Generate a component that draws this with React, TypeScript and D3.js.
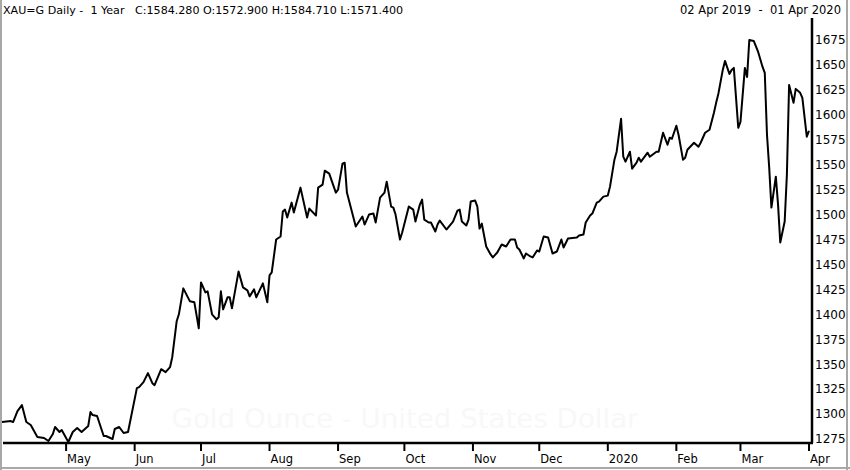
import * as d3 from "d3";

const dates = [
  "2019-04-02", "2019-04-06", "2019-04-07", "2019-04-09", "2019-04-11", "2019-04-13", "2019-04-15",
  "2019-04-18", "2019-04-21", "2019-04-23", "2019-04-25", "2019-04-26", "2019-04-28", "2019-04-29",
  "2019-05-02", "2019-05-04", "2019-05-06", "2019-05-08", "2019-05-11", "2019-05-12", "2019-05-13",
  "2019-05-15", "2019-05-18", "2019-05-19", "2019-05-22", "2019-05-23", "2019-05-25", "2019-05-27",
  "2019-05-29", "2019-06-02", "2019-06-03", "2019-06-05", "2019-06-07", "2019-06-09", "2019-06-10",
  "2019-06-13", "2019-06-15", "2019-06-17", "2019-06-18", "2019-06-20", "2019-06-21", "2019-06-23",
  "2019-06-26", "2019-06-28", "2019-06-30", "2019-07-01", "2019-07-03", "2019-07-04", "2019-07-06",
  "2019-07-08", "2019-07-09", "2019-07-10", "2019-07-11", "2019-07-13", "2019-07-14", "2019-07-15",
  "2019-07-18", "2019-07-20", "2019-07-22", "2019-07-23", "2019-07-25", "2019-07-26", "2019-07-29",
  "2019-07-31", "2019-08-01", "2019-08-02", "2019-08-04", "2019-08-06", "2019-08-07", "2019-08-08",
  "2019-08-09", "2019-08-11", "2019-08-12", "2019-08-15", "2019-08-18", "2019-08-19", "2019-08-22",
  "2019-08-23", "2019-08-25", "2019-08-26", "2019-08-28", "2019-08-31", "2019-09-01", "2019-09-03",
  "2019-09-04", "2019-09-05", "2019-09-09", "2019-09-12", "2019-09-13", "2019-09-15", "2019-09-17",
  "2019-09-18", "2019-09-20", "2019-09-22", "2019-09-23", "2019-09-25", "2019-09-26", "2019-09-27",
  "2019-09-29", "2019-09-30", "2019-10-03", "2019-10-05", "2019-10-06", "2019-10-08", "2019-10-09",
  "2019-10-10", "2019-10-12", "2019-10-13", "2019-10-15", "2019-10-16", "2019-10-17", "2019-10-20",
  "2019-10-23", "2019-10-25", "2019-10-26", "2019-10-27", "2019-10-29", "2019-10-30", "2019-10-31",
  "2019-11-02", "2019-11-03", "2019-11-04", "2019-11-05", "2019-11-07", "2019-11-09", "2019-11-10",
  "2019-11-12", "2019-11-14", "2019-11-16", "2019-11-18", "2019-11-20", "2019-11-21", "2019-11-22",
  "2019-11-24", "2019-11-25", "2019-11-27", "2019-11-28", "2019-11-30", "2019-12-01", "2019-12-03",
  "2019-12-05", "2019-12-07", "2019-12-09", "2019-12-11", "2019-12-12", "2019-12-14", "2019-12-18",
  "2019-12-19", "2019-12-21", "2019-12-22", "2019-12-24", "2019-12-25", "2019-12-27", "2019-12-28",
  "2019-12-30", "2020-01-01", "2020-01-02", "2020-01-04", "2020-01-05", "2020-01-07", "2020-01-08",
  "2020-01-09", "2020-01-11", "2020-01-12", "2020-01-14", "2020-01-15", "2020-01-16", "2020-01-19",
  "2020-01-20", "2020-01-23", "2020-01-24", "2020-01-26", "2020-01-28", "2020-01-29", "2020-01-30",
  "2020-02-01", "2020-02-02", "2020-02-04", "2020-02-05", "2020-02-06", "2020-02-09", "2020-02-11",
  "2020-02-12", "2020-02-14", "2020-02-16", "2020-02-18", "2020-02-19", "2020-02-20", "2020-02-22",
  "2020-02-23", "2020-02-25", "2020-02-26", "2020-02-27", "2020-02-29", "2020-03-01", "2020-03-03",
  "2020-03-04", "2020-03-05", "2020-03-07", "2020-03-09", "2020-03-11", "2020-03-12", "2020-03-13",
  "2020-03-14", "2020-03-15", "2020-03-17", "2020-03-18", "2020-03-19", "2020-03-21", "2020-03-22",
  "2020-03-23", "2020-03-25", "2020-03-26", "2020-03-28", "2020-03-29", "2020-03-31", "2020-04-01",
];

const closes = [
  1292, 1293, 1292, 1303, 1309, 1292, 1289,
  1277, 1276, 1273, 1280, 1287, 1282, 1284,
  1272, 1282, 1286, 1282, 1288, 1302, 1299,
  1298, 1278, 1278, 1275, 1285, 1287, 1281,
  1282, 1326, 1327, 1332, 1341, 1331, 1329,
  1345, 1342, 1347, 1357, 1393, 1400, 1426,
  1413, 1412, 1386, 1432, 1422, 1423, 1400,
  1395, 1397, 1423, 1405, 1417, 1417, 1406,
  1443, 1427, 1424, 1418, 1425, 1417, 1431,
  1412, 1439, 1442, 1475, 1478, 1503, 1505,
  1497, 1512, 1502, 1527, 1497, 1506, 1499,
  1527, 1530, 1544, 1541, 1522, 1525, 1551,
  1552, 1522, 1488, 1498, 1490, 1500, 1501,
  1492, 1517, 1522, 1533, 1508, 1507, 1500,
  1475, 1482, 1508, 1505, 1493, 1510, 1515,
  1495, 1492, 1492, 1483, 1490, 1494, 1485,
  1493, 1504, 1505, 1493, 1489, 1495, 1513,
  1514, 1508, 1486, 1491, 1468, 1460, 1457,
  1462, 1470, 1468, 1475, 1475, 1467, 1465,
  1456, 1461, 1458, 1457, 1464, 1463, 1478,
  1477, 1461, 1463, 1475, 1467, 1476, 1477,
  1479, 1480, 1492, 1499, 1501, 1512, 1513,
  1518, 1519, 1528, 1555, 1563, 1596, 1558,
  1553, 1563, 1546, 1552, 1557, 1553, 1562,
  1558, 1563, 1563, 1582, 1570, 1577, 1576,
  1589, 1580, 1555, 1557, 1565, 1572, 1568,
  1572, 1582, 1585, 1602, 1612, 1621, 1645,
  1654, 1641, 1645, 1647, 1587, 1593, 1647,
  1638, 1675, 1674, 1663, 1648, 1642, 1580,
  1547, 1507, 1538, 1510, 1472, 1493, 1540,
  1630, 1612, 1626, 1622, 1617, 1578, 1584,
];

const yTicks = [1275, 1300, 1325, 1350, 1375, 1400, 1425, 1450, 1475, 1500, 1525, 1550, 1575, 1600, 1625, 1650, 1675];
const monthLabels = ["May", "Jun", "Jul", "Aug", "Sep", "Oct", "Nov", "Dec", "2020", "Feb", "Mar", "Apr"];

const headerLeft = "XAU=G Daily -  1 Year   C:1584.280 O:1572.900 H:1584.710 L:1571.400";
const headerRight = "02 Apr 2019  -  01 Apr 2020";
const watermark = "Gold Ounce - United States Dollar";

const W = 850;
const H = 470;
const axisX = 812;
const axisY = 443;
const font = "'DejaVu Sans', Verdana, sans-serif";

export default function App() {
  const parse = d3.timeParse("%Y-%m-%d");
  const points = dates.map((d, i) => ({ date: parse(d) as Date, value: closes[i] }));

  const x = d3
    .scaleTime()
    .domain([parse("2019-04-02") as Date, parse("2020-04-01") as Date])
    .range([2, 809]);
  const y = d3.scaleLinear().domain([1275, 1675]).range([439, 40]);

  const line = d3
    .line<{ date: Date; value: number }>()
    .x((d) => x(d.date))
    .y((d) => y(d.value));

  const months = d3.timeMonth.range(parse("2019-05-01") as Date, parse("2020-04-02") as Date);

  return (
    <svg
      width={W}
      height={H}
      style={{ position: "absolute", left: 0, top: 0, background: "#fff" }}
    >
      <rect x={0} y={0} width={W} height={H} fill="#fff" />
      <text
        x={405}
        y={428}
        textAnchor="middle"
        fontFamily={font}
        fontSize={26}
        fill="#f8f8f8"
        textLength={467}
        lengthAdjust="spacingAndGlyphs"
      >
        {watermark}
      </text>

      <path d={line(points) ?? ""} fill="none" stroke="#000" strokeWidth={2} strokeLinejoin="round" />

      <line x1={3} x2={axisX + 1} y1={axisY} y2={axisY} stroke="#000" strokeWidth={2.5} />
      <line x1={axisX} x2={axisX} y1={18} y2={axisY} stroke="#000" strokeWidth={2.5} />

      {months.map((m, i) => (
        <g key={i} transform={`translate(${x(m)},0)`}>
          <line y1={axisY} y2={axisY + 8} stroke="#000" strokeWidth={2} />
          <text x={1} y={463} fontFamily={font} fontSize={11.5} fill="#000">
            {monthLabels[i]}
          </text>
        </g>
      ))}

      {yTicks.map((t) => (
        <text key={t} x={815} y={y(t)} dy="0.36em" fontFamily={font} fontSize={12} fill="#000">
          {t}
        </text>
      ))}

      <text x={3} y={14} fontFamily={font} fontSize={11.1} fill="#000" style={{ whiteSpace: "pre" }}>
        {headerLeft}
      </text>
      <text
        x={841}
        y={14}
        textAnchor="end"
        fontFamily={font}
        fontSize={11.5}
        fill="#000"
        style={{ whiteSpace: "pre" }}
      >
        {headerRight}
      </text>

      <line x1={1} x2={1} y1={0} y2={H} stroke="#a8a8a8" strokeWidth={2} />
      <line x1={W - 3} x2={W - 3} y1={0} y2={H} stroke="#a8a8a8" strokeWidth={2} />
      <line x1={0} x2={W} y1={H - 2} y2={H - 2} stroke="#a8a8a8" strokeWidth={2} />
    </svg>
  );
}
